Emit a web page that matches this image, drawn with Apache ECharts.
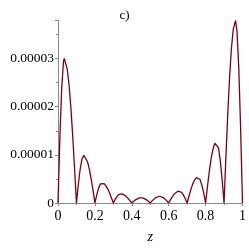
<!DOCTYPE html>
<html>
<head>
<meta charset="utf-8">
<script src="https://cdn.jsdelivr.net/npm/echarts@6/dist/echarts.min.js"></script>
<style>html,body{margin:0;padding:0;background:#fff}#c{width:249px;height:249px}</style>
</head>
<body>
<div id="c"></div>
<script>
var titleText = 'c)';
var xName = 'z';
var xTicks = [0, 0.2, 0.4, 0.6, 0.8, 1];
var yTicks = [0, 0.00001, 0.00002, 0.00003];

var zValues = [
  0, 0.01, 0.02, 0.03, 0.034, 0.04, 0.05, 0.06, 0.07, 0.08, 0.09,
  0.1, 0.11, 0.12, 0.13, 0.14, 0.15, 0.16, 0.17, 0.18, 0.19,
  0.2, 0.21, 0.22, 0.23, 0.238, 0.25, 0.26, 0.27, 0.28, 0.29,
  0.3, 0.31, 0.32, 0.33, 0.34, 0.35, 0.36, 0.37, 0.38, 0.39,
  0.4, 0.41, 0.42, 0.43, 0.44, 0.45, 0.46, 0.47, 0.48, 0.49,
  0.5, 0.51, 0.52, 0.53, 0.54, 0.55, 0.56, 0.57, 0.58, 0.59,
  0.6, 0.61, 0.62, 0.63, 0.64, 0.65, 0.656, 0.66, 0.67, 0.68, 0.69,
  0.7, 0.71, 0.72, 0.73, 0.74, 0.75, 0.758, 0.77, 0.78, 0.79,
  0.8, 0.81, 0.82, 0.83, 0.84, 0.85, 0.858, 0.87, 0.88, 0.89,
  0.9, 0.91, 0.92, 0.93, 0.94, 0.95, 0.962, 0.97, 0.98, 0.99, 1.0
];
var wValues = [
  0, 1.34e-5, 2.39e-5, 2.95e-5, 3.0e-5, 2.97e-5, 2.78e-5, 2.45e-5, 1.97e-5, 1.37e-5, 0.70e-5,
  0, 0.38e-5, 0.70e-5, 0.915e-5, 0.99e-5, 0.956e-5, 0.857e-5, 0.70e-5, 0.495e-5, 0.256e-5,
  0, 0.168e-5, 0.309e-5, 0.397e-5, 0.42e-5, 0.40e-5, 0.357e-5, 0.289e-5, 0.204e-5, 0.105e-5,
  0, 0.075e-5, 0.138e-5, 0.18e-5, 0.195e-5, 0.188e-5, 0.169e-5, 0.138e-5, 0.098e-5, 0.05e-5,
  0, 0.035e-5, 0.065e-5, 0.089e-5, 0.105e-5, 0.11e-5, 0.105e-5, 0.089e-5, 0.065e-5, 0.034e-5,
  0, 0.044e-5, 0.083e-5, 0.114e-5, 0.134e-5, 0.14e-5, 0.134e-5, 0.114e-5, 0.083e-5, 0.044e-5,
  0, 0.069e-5, 0.133e-5, 0.186e-5, 0.225e-5, 0.246e-5, 0.25e-5, 0.247e-5, 0.219e-5, 0.164e-5, 0.088e-5,
  0, 0.145e-5, 0.279e-5, 0.392e-5, 0.477e-5, 0.528e-5, 0.54e-5, 0.487e-5, 0.367e-5, 0.198e-5,
  0, 0.34e-5, 0.655e-5, 0.922e-5, 1.121e-5, 1.241e-5, 1.27e-5, 1.144e-5, 0.864e-5, 0.465e-5,
  0, 0.95e-5, 1.84e-5, 2.61e-5, 3.21e-5, 3.61e-5, 3.79e-5, 3.58e-5, 2.79e-5, 1.52e-5, 0
];

var serif = '"Liberation Serif", "DejaVu Serif", serif';
var axisGray = '#8a8a8a';
var chart = echarts.init(document.getElementById('c'), null, {renderer: 'canvas'});

function fmtY(v) {
  for (var i = 0; i < yTicks.length; i++) {
    if (Math.abs(v - yTicks[i]) < 1e-9) return i === 0 ? '0' : yTicks[i].toFixed(5);
  }
  return '';
}
function fmtX(v) {
  for (var i = 0; i < xTicks.length; i++) {
    if (Math.abs(v - xTicks[i]) < 1e-9) return String(xTicks[i]);
  }
  return '';
}

chart.setOption({
  animation: false,
  backgroundColor: '#ffffff',
  title: {
    text: titleText, left: 'center', top: 4,
    textStyle: {fontFamily: serif, fontSize: 13, fontWeight: 'normal', color: '#000'}
  },
  grid: {left: 58, right: 6, top: 20, bottom: 40, containLabel: false},
  xAxis: {
    type: 'value', min: 0, max: 1, interval: 0.2,
    name: xName, nameLocation: 'middle', nameGap: 27,
    nameTextStyle: {fontFamily: serif, fontSize: 14, fontStyle: 'italic', color: '#000'},
    axisLine: {lineStyle: {color: axisGray, width: 1}},
    axisTick: {show: true, length: 3, lineStyle: {color: axisGray}},
    minorTick: {show: true, splitNumber: 2, length: 2, lineStyle: {color: axisGray}},
    splitLine: {show: false},
    axisLabel: {fontFamily: serif, fontSize: 14, color: '#000', margin: 6, formatter: fmtX}
  },
  yAxis: {
    type: 'value', min: 0, max: 3.8e-5, interval: 1e-5,
    axisLine: {show: true, lineStyle: {color: axisGray, width: 1}},
    axisTick: {show: true, length: 3, lineStyle: {color: axisGray}},
    minorTick: {show: true, splitNumber: 2, length: 2, lineStyle: {color: axisGray}},
    splitLine: {show: false},
    axisLabel: {fontFamily: serif, fontSize: 13.5, color: '#000', margin: 4, formatter: fmtY, showMaxLabel: false}
  },
  series: [{
    type: 'line',
    data: zValues.map(function (z, i) { return [z, wValues[i]]; }),
    showSymbol: false,
    smooth: false,
    lineStyle: {color: '#7d0012', width: 1.3},
    itemStyle: {color: '#7d0012'}
  }]
});
</script>
</body>
</html>
